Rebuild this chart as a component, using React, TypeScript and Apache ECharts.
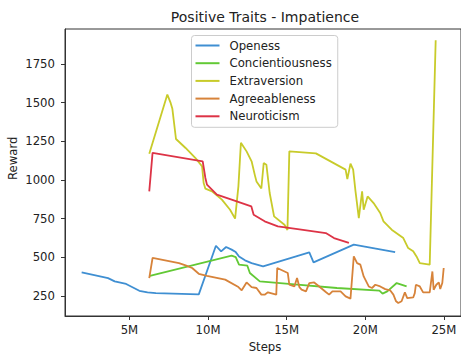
import React, { useEffect, useRef } from "react";
import * as echarts from "echarts";

const FONT = "DejaVu Sans";

const seriesNames = ["Openess", "Concientiousness", "Extraversion", "Agreeableness", "Neuroticism"];
const seriesColors = ["#3f8fd2", "#62c935", "#c8cb2a", "#d7833a", "#dd3346"];

const xTicks = [5, 10, 15, 20, 25];
const yTicks = [250, 500, 750, 1000, 1250, 1500, 1750];

// [steps (millions), reward]
const openess: [number, number][] = [
  [1.96, 403], [3.64, 366], [4.06, 345], [4.79, 328], [5.1, 312], [5.63, 284], [6.15, 274],
  [6.68, 269], [9.41, 261], [10.5, 575], [10.83, 539], [11.15, 567], [11.5, 550], [11.76, 534],
  [11.97, 506], [12.35, 481], [12.77, 463], [13.5, 442], [16.44, 532], [16.71, 468],
  [19.27, 582], [21.9, 534],
];

const concientiousness: [number, number][] = [
  [6.3, 381], [11.5, 511], [11.76, 502], [11.97, 453], [12.5, 446], [12.66, 399], [13.29, 345],
  [15.5, 325], [18.2, 302], [20.9, 285], [21.1, 266], [21.4, 280], [22.0, 334], [22.63, 312],
];

const extraversion: [number, number][] = [
  [6.26, 1170], [7.41, 1552], [7.62, 1498], [7.73, 1460], [7.96, 1265], [8.57, 1207], [9.2, 1142],
  [9.62, 1088], [9.72, 980], [9.83, 944], [10.25, 927], [10.88, 873], [11.4, 808], [11.72, 750],
  [11.93, 959], [12.09, 1241], [12.45, 1185], [12.77, 1121], [12.98, 1030], [13.08, 991],
  [13.39, 945], [13.54, 1110], [13.71, 1099], [13.92, 916], [14.2, 765], [14.86, 711],
  [15.05, 677], [15.17, 1185], [16.86, 1172], [18.75, 1067], [18.86, 1006], [19.06, 1106],
  [19.23, 1067], [19.38, 927], [19.59, 754], [19.8, 927], [19.9, 808], [20.15, 894],
  [20.53, 851], [20.95, 787], [21.16, 733], [21.68, 679], [22.42, 625], [22.73, 560],
  [23.05, 539], [23.26, 506], [23.47, 463], [24.1, 453], [24.48, 1903],
];

const agreeableness: [number, number][] = [
  [6.26, 366], [6.47, 496], [8.15, 463], [8.57, 448], [8.99, 431], [9.41, 394], [9.93, 381],
  [11.09, 356], [11.93, 308], [12.14, 287], [12.45, 338], [12.77, 308], [13.08, 302],
  [13.39, 259], [13.6, 259], [13.81, 274], [14.34, 259], [14.4, 431], [15.07, 399],
  [15.17, 323], [15.49, 312], [15.66, 366], [15.81, 308], [15.95, 291], [16.23, 280],
  [16.44, 334], [16.75, 338], [17.07, 312], [17.49, 276], [17.7, 259], [17.91, 280],
  [18.43, 280], [18.75, 248], [19.06, 233], [19.27, 506], [19.48, 463], [19.69, 453],
  [19.9, 377], [20.22, 312], [20.43, 302], [20.64, 323], [20.95, 312], [21.27, 295],
  [21.58, 287], [21.79, 259], [21.96, 216], [22.1, 205], [22.31, 216], [22.52, 274],
  [22.67, 237], [23.05, 241], [23.15, 269], [23.22, 323], [23.47, 312], [23.68, 274],
  [24.1, 274], [24.27, 409], [24.35, 291], [24.52, 323], [24.68, 338], [24.77, 295],
  [24.9, 334], [24.99, 431],
];

const neuroticism: [number, number][] = [
  [6.26, 927], [6.47, 1175], [9.66, 1121], [9.83, 1013], [9.93, 970], [10.56, 905],
  [11.5, 873], [12.75, 830], [12.9, 775], [13.6, 733], [14.44, 700], [15.7, 683],
  [17.49, 657], [18.01, 625], [18.96, 593],
];

const allData = [openess, concientiousness, extraversion, agreeableness, neuroticism];

export default function App() {
  const ref = useRef<HTMLDivElement>(null);
  useEffect(() => {
    const chart = echarts.init(ref.current!, null, { renderer: "svg" });
    chart.setOption({
      animation: false,
      backgroundColor: "#ffffff",
      textStyle: { fontFamily: FONT },
      grid: {
        left: 65,
        top: 29,
        width: 400,
        height: 287,
        show: true,
        borderColor: "#333",
        borderWidth: 1,
        backgroundColor: "transparent",
      },
      xAxis: {
        type: "value",
        min: 0.9,
        max: 26.09,
        splitLine: { show: false },
        axisLine: { show: true, onZero: false, lineStyle: { color: "#333", width: 1 } },
        axisTick: { show: true, length: 4, customValues: xTicks, lineStyle: { color: "#333" } },
        axisLabel: {
          customValues: xTicks,
          formatter: (v: number) => `${v}M`,
          color: "#222",
          fontFamily: FONT,
          fontSize: 11.7,
          margin: 8,
        },
      },
      yAxis: {
        type: "value",
        min: 121,
        max: 1976,
        splitLine: { show: false },
        axisLine: { show: true, onZero: false, lineStyle: { color: "#333", width: 1 } },
        axisTick: { show: true, length: 4, customValues: yTicks, lineStyle: { color: "#333" } },
        axisLabel: {
          customValues: yTicks,
          formatter: (v: number) => String(v),
          color: "#222",
          fontFamily: FONT,
          fontSize: 11.7,
          margin: 10,
        },
      },
      legend: {
        orient: "vertical",
        left: 191.5,
        top: 35.5,
        data: seriesNames,
        icon: "rect",
        itemWidth: 24,
        itemHeight: 2,
        itemGap: 3.7,
        padding: [3, 6, 4, 4],
        backgroundColor: "rgba(255,255,255,0.8)",
        borderColor: "#cccccc",
        borderWidth: 1,
        borderRadius: 3,
        textStyle: {
          fontFamily: FONT,
          fontSize: 11.7,
          color: "#222",
          lineHeight: 14,
          padding: [0, 0, 0, 5],
        },
      },
      graphic: [
        {
          type: "text",
          x: 265,
          y: 16.7,
          style: {
            text: "Positive Traits - Impatience",
            fontFamily: FONT,
            fontSize: 14,
            fill: "#222",
            textAlign: "center",
            textVerticalAlign: "middle",
          },
        },
        {
          type: "text",
          x: 265,
          y: 346.5,
          style: {
            text: "Steps",
            fontFamily: FONT,
            fontSize: 11.7,
            fill: "#222",
            textAlign: "center",
            textVerticalAlign: "middle",
          },
        },
        {
          type: "text",
          x: 13.3,
          y: 158.3,
          rotation: Math.PI / 2,
          style: {
            text: "Reward",
            fontFamily: FONT,
            fontSize: 11.7,
            fill: "#222",
            textAlign: "center",
            textVerticalAlign: "middle",
          },
        },
      ],
      series: seriesNames.map((name, i) => ({
        name,
        type: "line",
        data: allData[i],
        showSymbol: false,
        symbol: "none",
        color: seriesColors[i],
        lineStyle: { width: 1.8, color: seriesColors[i] },
        emphasis: { disabled: true },
      })),
    });
    return () => chart.dispose();
  }, []);
  return (
    <div
      ref={ref}
      style={{ position: "absolute", left: 0, top: 0, width: 461, height: 354 }}
    />
  );
}
